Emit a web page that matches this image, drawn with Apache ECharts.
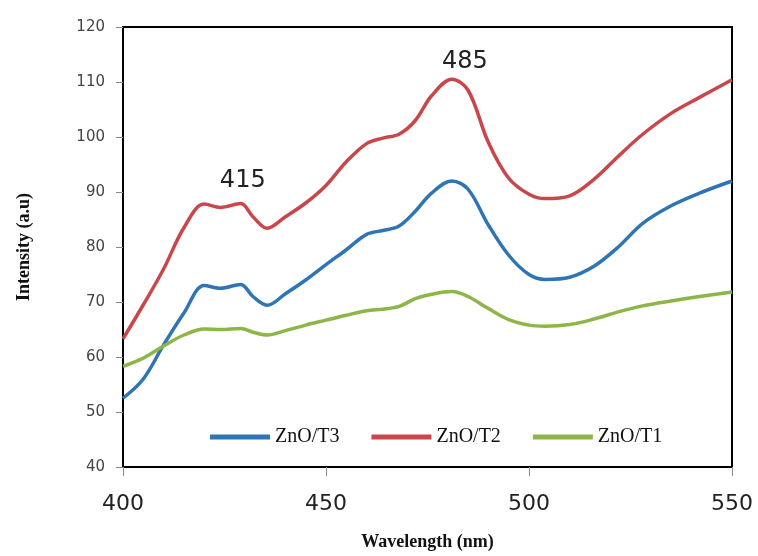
<!DOCTYPE html>
<html><head><meta charset="utf-8">
<script src="https://cdn.jsdelivr.net/npm/echarts@6/dist/echarts.min.js"></script>
<style>html,body{margin:0;padding:0;background:#fff}#c{width:758px;height:556px}</style>
</head><body><div id="c"></div>
<script>
var wavelength = [400,405,410,415,420,424,429,432,435.5,440,445,450,455,460,464,468,472,476,481,485,490,495,500,504,510,516,522,528,535,542,550];
var t3 = [52.5,56,62.2,68,73,72.5,73.2,71,69.4,71.5,74,76.8,79.5,82.3,83,83.8,86.5,89.8,92,90.5,84,78.5,75,74.1,74.5,76.5,80,84.3,87.5,89.8,92];
var t2 = [63.3,69.5,76,83.5,87.8,87.2,87.9,85.5,83.4,85.5,88,91.2,95.5,98.8,99.8,100.5,103,107.5,110.5,108.5,99,92.5,89.6,88.8,89.3,92.3,96.5,100.5,104.3,107.2,110.4];
var t1 = [58.3,59.8,62,64,65.1,65,65.2,64.5,64,64.8,65.8,66.7,67.6,68.4,68.7,69.2,70.6,71.4,71.9,71,68.8,66.8,65.8,65.6,65.9,66.9,68.2,69.3,70.2,71,71.8];
var seriesNames = ['ZnO/T3','ZnO/T2','ZnO/T1'];
var annotations = [{text:'415', x:429.5, y:92.1},{text:'485', x:484.2, y:113.7}];
var xTicks = [400,450,500,550];
var yTicks = [40,50,60,70,80,90,100,110,120];

function pairs(ys){return wavelength.map(function(x,i){return [x, ys[i]];});}

var chart = echarts.init(document.getElementById('c'));
chart.setOption({
  backgroundColor:'#fff',
  animation:false,
  grid:{left:123,right:26,top:27,bottom:87,show:true,borderColor:'#000',borderWidth:2,backgroundColor:'#fff'},
  legend:{
    left:205, top:422, itemWidth:60, itemHeight:5, itemGap:32, icon:'rect',
    data:seriesNames,
    textStyle:{fontFamily:'Liberation Serif',fontSize:20,color:'#111'}
  },
  xAxis:{
    type:'value', min:xTicks[0], max:xTicks[xTicks.length-1], interval:50,
    axisLine:{lineStyle:{color:'#000',width:2}},
    axisTick:{show:true,length:9,lineStyle:{color:'#888',width:1}},
    axisLabel:{margin:26,fontFamily:'DejaVu Sans',fontSize:22,color:'#222'},
    splitLine:{show:false},
    name:'Wavelength (nm)', nameLocation:'middle', nameGap:66,
    nameTextStyle:{fontFamily:'Liberation Serif',fontWeight:'bold',fontSize:18,color:'#111'}
  },
  yAxis:{
    type:'value', min:yTicks[0], max:yTicks[yTicks.length-1], interval:10,
    axisLine:{show:true,lineStyle:{color:'#000',width:2}},
    axisTick:{show:true,length:7,lineStyle:{color:'#888',width:1}},
    axisLabel:{margin:18,fontFamily:'DejaVu Sans',fontSize:15,color:'#444'},
    splitLine:{show:false},
    name:'Intensity (a.u)', nameLocation:'middle', nameGap:90,
    nameTextStyle:{fontFamily:'Liberation Serif',fontWeight:'bold',fontSize:18,color:'#111'}
  },
  series:[
    {name:seriesNames[0],type:'line',data:pairs(t3),smooth:0.35,showSymbol:false,symbol:'none',
     lineStyle:{color:'#2f74b5',width:3.5},itemStyle:{color:'#2f74b5'}},
    {name:seriesNames[1],type:'line',data:pairs(t2),smooth:0.35,showSymbol:false,symbol:'none',
     lineStyle:{color:'#c9474b',width:3.5},itemStyle:{color:'#c9474b'},
     markPoint:{symbol:'rect',symbolSize:1,itemStyle:{color:'rgba(0,0,0,0)'},
       label:{show:true,position:'inside',fontFamily:'DejaVu Sans',fontSize:24,color:'#222',formatter:function(p){return p.name;}},
       data:annotations.map(function(a){return {name:a.text,coord:[a.x,a.y]};})}},
    {name:seriesNames[2],type:'line',data:pairs(t1),smooth:0.35,showSymbol:false,symbol:'none',
     lineStyle:{color:'#8db548',width:3.5},itemStyle:{color:'#8db548'}}
  ]
});
</script></body></html>
